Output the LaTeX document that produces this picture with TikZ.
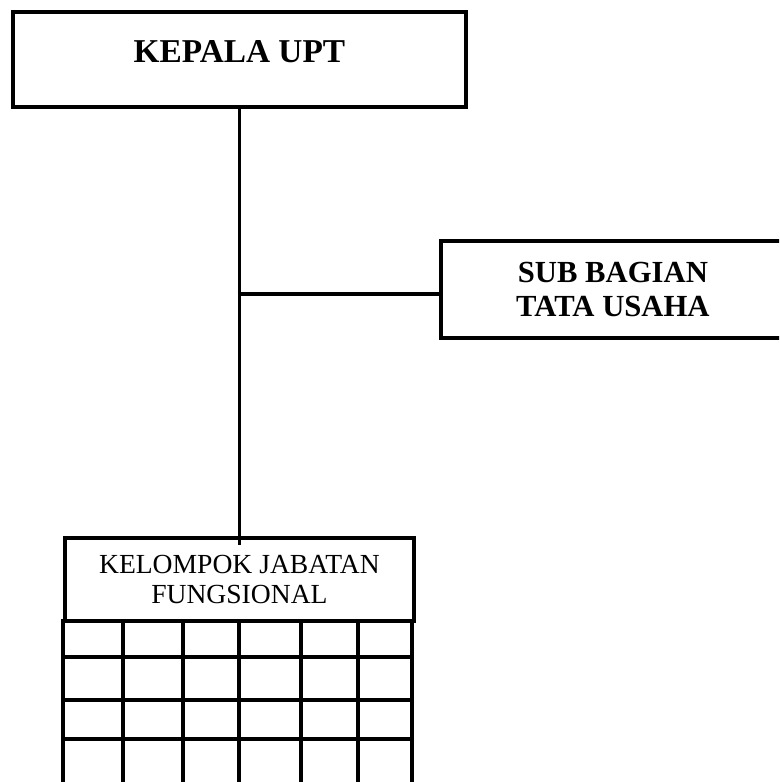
\documentclass[tikz,border=0pt]{standalone}
\usepackage{fontspec}
\setmainfont{Liberation Serif}
\begin{document}
\begin{tikzpicture}[x=0.75pt,y=-0.75pt,
  unitbox/.style={draw,line width=2.9pt,anchor=north west,align=center,inner sep=0pt},
  orgline/.style={line width=2.9pt}]
\useasboundingbox (0,0) rectangle (779,782);
\clip (0,0) rectangle (779,782);
% boxes
\node[unitbox,minimum width=453*0.75pt,minimum height=95*0.75pt,
  font=\bfseries\fontsize{25}{30}\selectfont,text height=16.5pt,text depth=11.3pt] (kepala) at (11,10) {KEPALA UPT};
\node[unitbox,minimum width=344*0.75pt,minimum height=97*0.75pt,
  font=\bfseries\fontsize{23}{25}\selectfont] (tu) at (439,239) {SUB BAGIAN\\TATA USAHA};
\node[unitbox,minimum width=349*0.75pt,minimum height=83*0.75pt,
  font=\fontsize{20.7}{23}\selectfont] (jf) at (63,536) {KELOMPOK JABATAN\\FUNGSIONAL};
% grid under jf
\foreach \gx in {63,123,183,239,301,358,412}{\draw[orgline](\gx,619)--(\gx,790);}
\foreach \gy in {657,700,739,784}{\draw[orgline](63,\gy)--(412,\gy);}
% lines
\coordinate (tee) at (237.5,294);
\draw[orgline](kepala.south)--([yshift=-6.75pt]jf.north);
\draw[orgline](tee)--(tee-|tu.west);
\end{tikzpicture}
\end{document}
